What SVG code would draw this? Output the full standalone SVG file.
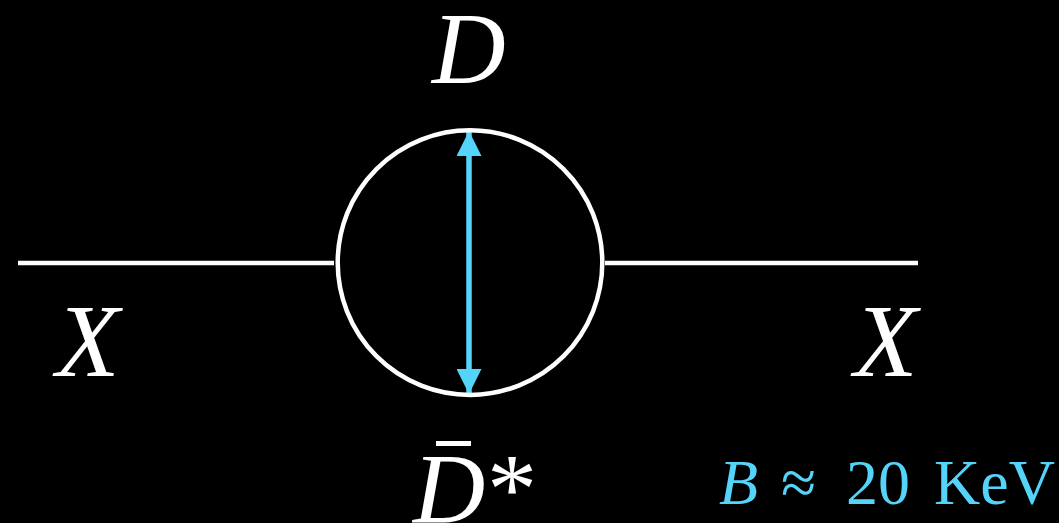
<svg xmlns="http://www.w3.org/2000/svg" width="1059" height="523" viewBox="0 0 1059 523">
<style>
.line{stroke:#ffffff;stroke-width:4.5;fill:none}
text{font-family:'Liberation Serif','DejaVu Serif',serif;font-size:100px;fill:#ffffff}
.it{font-style:italic}
.blue{fill:#55d4fa}
</style>
<defs>
<marker id="ah" viewBox="0 0 25 25" refX="24" refY="12.5" markerWidth="25" markerHeight="25" markerUnits="userSpaceOnUse" orient="auto">
<path d="M0,0 L25,12.5 L0,25 Z" fill="#55d4fa"/>
</marker>
</defs>
<rect width="1059" height="523" fill="#000000"/>
<g id="connectors">
<line class="line" x1="18" y1="263" x2="334" y2="263"/>
<line class="line" x1="605" y1="263" x2="918" y2="263"/>
<line x1="469" y1="262" x2="469" y2="132" stroke="#55d4fa" stroke-width="5.5" marker-end="url(#ah)"/>
<line x1="469" y1="262" x2="469" y2="393" stroke="#55d4fa" stroke-width="5.5" marker-end="url(#ah)"/>
</g>
<g id="loop">
<circle class="line" cx="470" cy="262.6" r="132.3"/>
</g>
<g id="label-D">
<text class="it" x="432" y="83" style="font-size:102px">D</text>
</g>
<g id="label-X-left">
<text class="it" x="56" y="376" style="font-size:104px">X</text>
</g>
<g id="label-X-right">
<text class="it" x="854" y="376" style="font-size:104px">X</text>
</g>
<g id="label-Dbar">
<rect x="436" y="441" width="35" height="5" fill="#ffffff"/>
<text x="413" y="522"><tspan class="it">D</tspan><tspan x="487">*</tspan></text>
</g>
<g id="label-B">
<text class="blue" style="font-size:64px" y="504"><tspan class="it" x="719">B</tspan><tspan x="781">≈</tspan><tspan x="846">20</tspan><tspan x="934">KeV</tspan></text>
</g>
</svg>
